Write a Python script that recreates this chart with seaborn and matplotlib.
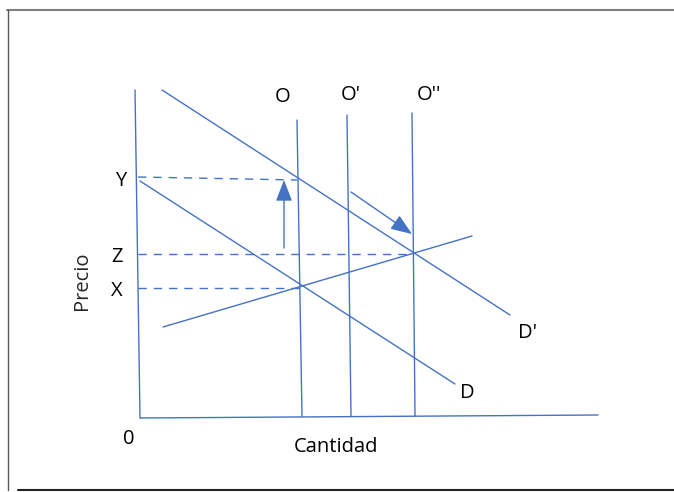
import numpy as np
import pandas as pd
import matplotlib.pyplot as plt
import seaborn as sns

sns.set_style("white")
plt.rcParams['font.family'] = ['Open Sans', 'DejaVu Sans']

# diagram in picture units (x right, y down)
axis_x = [135, 140, 598]
axis_y = [90, 418, 415]

supply_names = ["O", "O'", "O''"]
supply_x0 = [297, 347, 412]
supply_x1 = [302, 351, 415]
supply_top = [120, 115, 113]
supply_bot = [416, 416, 416]

demand_names = ["D", "D'", "S"]
demand_x = [[140, 455], [162, 510], [163, 472]]
demand_y = [[181, 384], [90, 315], [327, 236]]

guide_names = ["Y", "Z", "X"]
guide_x = [[138, 297], [138, 413], [138, 300]]
guide_y = [[177, 180], [254, 254], [288, 288]]

arrow_from = [(284, 248), (351, 192)]
arrow_to = [(284, 180), (412, 234)]

labels = ["O", "O'", "O''", "Y", "Z", "X", "D'", "D", "0", "Cantidad"]
label_x = [283, 351, 429, 121, 117, 117, 527, 467, 129, 336]
label_y = [97, 95, 95, 181, 257, 291, 333, 393, 439, 447]

blue = "#4472C4"

fig = plt.figure(figsize=(6.74, 4.92), dpi=100)
ax = fig.add_axes([0, 0, 1, 1])
ax.set_xlim(0, 674)
ax.set_ylim(492, 0)
ax.axis('off')

def seg(xs, ys, **kw):
    d = pd.DataFrame({'x': xs, 'y': ys})
    sns.lineplot(data=d, x='x', y='y', ax=ax, sort=False, estimator=None,
                 color=blue, lw=1, **kw)

seg(axis_x, axis_y)
for i in range(len(supply_names)):
    seg([supply_x0[i], supply_x1[i]], [supply_top[i], supply_bot[i]])
for i in range(len(demand_names)):
    seg(demand_x[i], demand_y[i])
for i in range(len(guide_names)):
    seg(guide_x[i], guide_y[i], linestyle=(0, (6, 5)))

for a, b in zip(arrow_from, arrow_to):
    ax.annotate('', xy=b, xytext=a,
                arrowprops=dict(arrowstyle='-|>,head_length=1.3,head_width=0.5',
                                color=blue, lw=1, shrinkA=0, shrinkB=0))

for t, x, y in zip(labels, label_x, label_y):
    ax.text(x, y, t, ha='center', va='center', fontsize=14.5, color='black')
ax.text(82, 281, "Precio", rotation=90, ha='center', va='center', fontsize=14.5)

# frame around the figure
ax.plot([7, 674], [9.5, 9.5], color='#808080', lw=1.5)
ax.plot([7.5, 7.5], [9.5, 490], color='#555555', lw=1)
ax.plot([18, 674], [490, 490], color='#222222', lw=1.5)

fig.savefig("out.png", dpi=100)
